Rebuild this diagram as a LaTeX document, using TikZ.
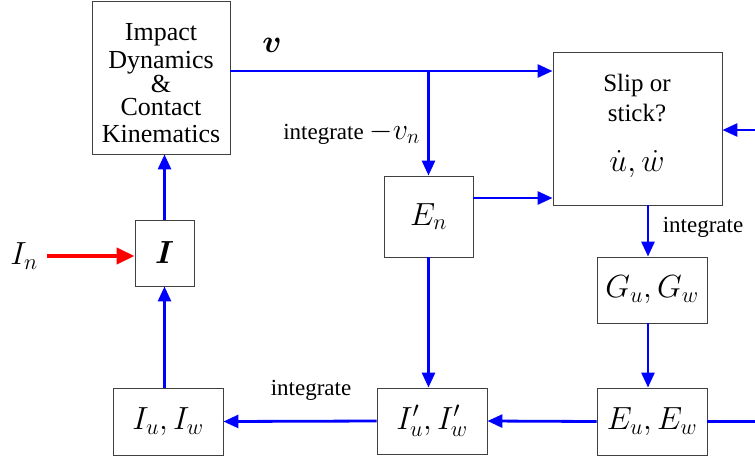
\RequirePackage{fix-cm}
\documentclass[tikz,border=0pt]{standalone}
\usepackage{amsmath,bm}
\usepackage{fontspec}
\setmainfont{Liberation Serif}
\usetikzlibrary{arrows.meta}
\begin{document}
\begin{tikzpicture}[x=1pt,y=-1pt,
  blk/.style={draw=black!75, line width=0.9pt, fill=white, inner sep=0pt},
  flow/.style={draw=blue, line width=2.8pt, -{Triangle[length=15pt,width=13pt]}},
  wire/.style={draw=blue, line width=2.8pt},
  hot/.style={draw=red, line width=4pt, -{Triangle[length=18pt,width=16pt]}},
  mth/.style={font=\fontsize{32}{38}\selectfont},
  txt/.style={font=\fontsize{26}{26}\selectfont, align=center, inner sep=0pt},
  lbl/.style={font=\fontsize{23}{26}\selectfont, inner sep=0pt}]
\useasboundingbox (0,0) rectangle (755,459);

% blocks
\node[blk, minimum width=138pt, minimum height=153pt] (imp) at (161,77.5) {};
\node[txt] (imptext) at (161,83) {Impact\\[2pt]Dynamics\\[-2pt]\&\\[-3pt]Contact\\[1pt]Kinematics};
\node[blk, minimum width=59pt, minimum height=66pt, mth] (I) at (164.5,253) {$\boldsymbol{I}$};
\node[blk, minimum width=110pt, minimum height=67pt, mth] (Iuw) at (168,421.5) {$I_u, I_w$};
\node[blk, minimum width=89pt, minimum height=81pt, mth] (En) at (428.5,216.5) {$E_n$};
\node[blk, minimum width=169pt, minimum height=153pt] (slip) at (637.5,128.5) {};
\node[txt, font=\fontsize{25}{30}\selectfont] (sliptext) at (637,126) {Slip or\\stick?\\[20pt]{\fontsize{32}{32}\selectfont$\dot u, \dot w$}};
\node[blk, minimum width=110pt, minimum height=66pt, mth] (Guw) at (652,290) {$G_u, G_w$};
\node[blk, minimum width=110pt, minimum height=67pt, mth] (Euw) at (652,421.5) {$E_u, E_w$};
\node[blk, minimum width=110pt, minimum height=66pt, mth] (Ipuw) at (432,421) {$I'_u, I'_w$};

% rows and columns used by the connectors
\coordinate (vrow) at (0,71);
\coordinate (erow) at (0,198);
\coordinate (col) at (648,0);
\coordinate (rgt1) at (755,421.5);
\coordinate (rgt2) at (755,130);

% connectors
\draw[flow] (imp.east |- vrow) -- (slip.west |- vrow);
\draw[flow] (En.north |- vrow) -- (En.north);
\draw[flow] (En.east |- erow) -- (slip.west |- erow);
\draw[flow] (slip.south -| col) -- (Guw.north -| col);
\draw[flow] (Guw.south -| col) -- (Euw.north -| col);
\draw[flow] (Euw.west) -- (Ipuw.east);
\draw[wire] (Euw.east) -- (rgt1);
\draw[flow] (rgt2) -- (slip.east |- rgt2);
\draw[flow] (En.south) -- (Ipuw.north -| En.south);
\draw[flow] (Ipuw.west) -- (Iuw.east);
\draw[flow] (Iuw.north -| I.south) -- (I.south);
\draw[flow] (I.north) -- (imp.south -| I.north);

% external impulse
\node[mth, inner sep=0pt] (In) at (24,256) {$I_n$};
\coordinate (inrow) at (0,256);
\draw[hot] ([xshift=9pt]In.east |- inrow) -- (I.west |- inrow);

% labels
\node[mth, inner sep=0pt] (vlab) at (272,45) {$\boldsymbol{v}$};
\node[lbl, anchor=east] (intvn) at (420,133) {integrate {\fontsize{30}{30}\selectfont$-v_n$}};
\node[lbl] (intuw) at (703,227) {integrate};
\node[lbl] (intI) at (311,390) {integrate};
\end{tikzpicture}
\end{document}
